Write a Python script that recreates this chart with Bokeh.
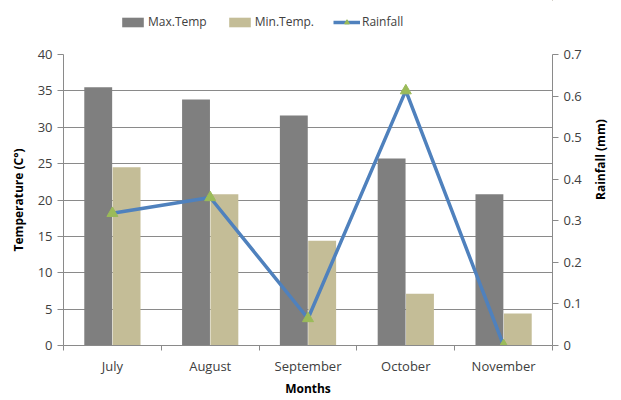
import math
from bokeh.plotting import figure
from bokeh.layouts import column
from bokeh.models import (Range1d, LinearAxis, FixedTicker, Legend, LegendItem, ColumnDataSource)
from bokeh.embed import file_html
from bokeh.resources import INLINE

months = ["July", "August", "September", "October", "November"]
max_temp = [35.5, 33.8, 31.6, 25.7, 20.8]
min_temp = [24.5, 20.8, 14.4, 7.1, 4.4]
rainfall = [0.318, 0.356, 0.065, 0.613, 0.0]

FONT = "Open Sans"
TXT = "#404040"
GRID = "#8a8a8a"
C_MAX, C_MIN, C_LINE, C_MARK = "#7f7f7f", "#c4bd97", "#4f81bd", "#9bbb59"

pos = [i + 0.5 for i in range(len(months))]
src = ColumnDataSource(dict(
    x=pos,
    xmax=[p - 0.145 for p in pos],
    xmin=[p + 0.145 for p in pos],
    max_temp=max_temp, min_temp=min_temp, rain=rainfall,
))

LEG_H = 36
p = figure(width=621, height=400 - LEG_H, output_backend="svg", toolbar_location=None,
           x_range=Range1d(0, len(months)), y_range=Range1d(0, 40),
           min_border_left=63, min_border_right=69, min_border_top=54 - LEG_H, min_border_bottom=55)
p.outline_line_color = None
p.extra_y_ranges = {"rain": Range1d(0, 0.7)}

p.vbar(x="xmax", top="max_temp", width=0.285, source=src, fill_color=C_MAX, line_color=None)
p.vbar(x="xmin", top="min_temp", width=0.285, source=src, fill_color=C_MIN, line_color=None)
p.line(x="x", y="rain", source=src, y_range_name="rain", line_color=C_LINE, line_width=3.5)
p.scatter(x="x", y="rain", source=src, y_range_name="rain", marker="triangle", size=11,
          fill_color=C_MARK, line_color=C_MARK)

p.xgrid.visible = False
p.ygrid.grid_line_color = GRID
p.ygrid.ticker = FixedTicker(ticks=list(range(0, 45, 5)))

yax = p.yaxis[0]
yax.ticker = FixedTicker(ticks=list(range(0, 45, 5)))
yax.axis_label = "Temperature (C°)"

xax = p.xaxis[0]
xax.ticker = FixedTicker(ticks=pos, minor_ticks=list(range(0, len(months) + 1)))
xax.major_label_overrides = {p_: m for p_, m in zip(pos, months)}
xax.axis_label = "Months"

rax = LinearAxis(y_range_name="rain", ticker=FixedTicker(ticks=[i / 10 for i in range(8)]),
                 axis_label="Rainfall (mm)")
rax.major_label_overrides = {0.0: "0"}
if "axis_label_orientation" in rax.properties():
    rax.axis_label_orientation = math.pi / 2
p.add_layout(rax, "right")

for ax in [xax, yax, rax]:
    ax.axis_line_color = GRID
    ax.major_tick_line_color = GRID
    ax.minor_tick_line_color = GRID if ax is xax else None
    ax.major_label_text_font = FONT
    ax.major_label_text_font_size = "13px"
    ax.major_label_text_color = TXT
    ax.axis_label_text_font = FONT
    ax.axis_label_text_font_size = "12px"
    ax.axis_label_text_font_style = "bold"
    ax.axis_label_text_color = "#000000"
yax.major_tick_out = 6
yax.major_tick_in = 0
rax.major_tick_out = 6
rax.major_tick_in = 0
rax.axis_label_standoff = 16
yax.axis_label_standoff = 8
xax.major_tick_out = 0
xax.major_tick_in = 0
xax.minor_tick_out = 5
xax.minor_tick_in = 0
xax.axis_label_standoff = 2
xax.major_label_standoff = 6

# legend strip (renderers reuse the data but the view range hides them)
lf = figure(width=621, height=LEG_H, output_backend="svg", toolbar_location=None,
            x_range=Range1d(-10, -9), y_range=Range1d(-10, -9), min_border=0)
lf.axis.visible = False
lf.grid.visible = False
lf.outline_line_color = None
l1 = lf.vbar(x="xmax", top="max_temp", width=0.285, source=src, fill_color=C_MAX, line_color=None)
l2 = lf.vbar(x="xmin", top="min_temp", width=0.285, source=src, fill_color=C_MIN, line_color=None)
l3 = lf.line(x="x", y="rain", source=src, line_color=C_LINE, line_width=3.5)
l4 = lf.scatter(x="x", y="rain", source=src, marker="triangle", size=10, fill_color=C_MARK, line_color=C_MARK)
legend = Legend(items=[
    LegendItem(label="Max.Temp", renderers=[l1]),
    LegendItem(label="Min.Temp.", renderers=[l2]),
    LegendItem(label="Rainfall", renderers=[l3, l4]),
], orientation="horizontal", location=(56, 6))
legend.label_text_font = FONT
legend.label_text_font_size = "12px"
legend.label_text_color = TXT
legend.border_line_color = None
legend.background_fill_alpha = 0
legend.glyph_width = 27
legend.glyph_height = 12
legend.label_standoff = 2
legend.spacing = 19
legend.padding = 4
legend.margin = 0
lf.add_layout(legend, "center")

layout = column(lf, p, spacing=0)
open("out.html", "w").write(file_html(layout, INLINE))
